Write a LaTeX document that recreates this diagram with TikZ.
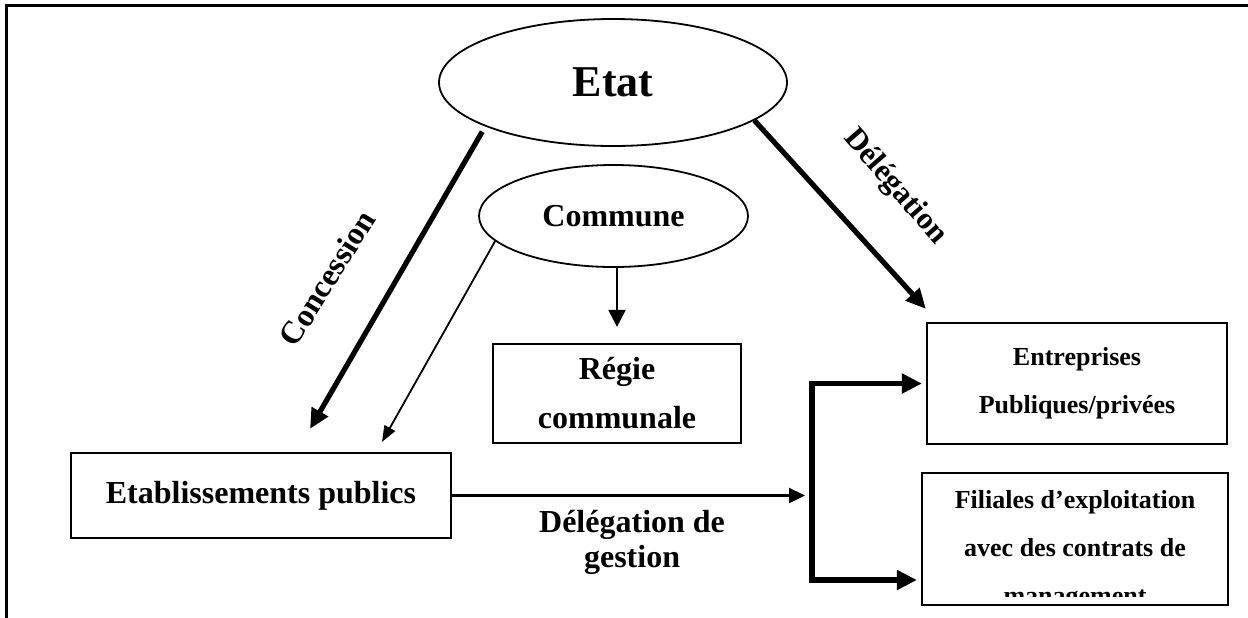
\documentclass[tikz,border=0pt]{standalone}
\usepackage{fontspec}
\setmainfont{Liberation Serif}
\usetikzlibrary{shapes.geometric,arrows.meta}

\begin{document}
\begin{tikzpicture}[x=0.5pt,y=-0.5pt,
	every node/.style={font=\bfseries\fontsize{16}{24.5}\selectfont},
	oval/.style={ellipse,draw=black,line width=0.9pt,inner sep=0pt},
	box/.style={rectangle,draw=black,line width=1.1pt,inner sep=0pt,align=center},
	fat/.style={line width=2.6pt,-{Triangle[length=10pt,width=9pt]}},
	slim/.style={line width=0.9pt,-{Triangle[length=8pt,width=6pt]}}]
			\useasboundingbox (0,0) rectangle (1248,617);
			\draw[line width=1.5pt] (6.3,640) -- (6.3,5.5) -- (1260,5.5);

			%ellipses
			\node [oval,minimum width=174pt,minimum height=63.5pt,font=\bfseries\fontsize{22}{26}\selectfont] (etat) at (613,82.5) {Etat};
			\node [oval,minimum width=134.5pt,minimum height=51pt] (commune) at (613.5,216) {Commune};

			%boxes
			\node [box,minimum width=190pt,minimum height=42.5pt] (etab) at (261,495.5) {Etablissements publics};
			\node [box,minimum width=124pt,minimum height=49.5pt] (regie) at (617,393.5) {Régie\\communale};
			\node [box,minimum width=150pt,minimum height=60.5pt,font=\bfseries\fontsize{13}{24}\selectfont] (ent) at (1077,383.5) {Entreprises\\Publiques/privées};
			\node [box,minimum width=153pt,minimum height=66pt] (fil) at (1075,539) {};
			\begin{scope}
				\clip (fil.north west) rectangle ([yshift=5pt]fil.south east);
				\node [align=center,inner sep=0pt,font=\bfseries\fontsize{13}{24}\selectfont] (filtxt) at (1075,550) {Filiales d’exploitation\\avec des contrats de\\management};
			\end{scope}

			%labels
			\node [rotate=58] (conc) at (327,278) {Concession};
			\node [rotate=-49,font=\bfseries\fontsize{15.5}{18}\selectfont] (deleg) at (895,187) {Délégation};

			%bracket
			\coordinate (jtop) at (812,383.5);
			\coordinate (jbot) at (812,580);

			%edges
			\draw[fat,shorten <=3pt] (etat.-161) -- ([shift={(49,-23)}]etab.north);
			\draw[fat] (etat.-15) -- ([shift={(0,-13)}]ent.north west);
			\draw[slim] (commune.-168) -- ([shift={(121,-10)}]etab.north);
			\draw[line width=1pt,-{Triangle[length=8.5pt,width=8.5pt]}] (commune.south -| regie.north) -- ([shift={(0,-16)}]regie.north);
			\draw[line width=1.2pt,-{Triangle[length=8pt,width=7.5pt]},shorten >=3.5pt] (etab.east) -- node[midway,below=7pt,align=center,inner sep=0pt,font=\bfseries\fontsize{16}{17.5}\selectfont] {Délégation de\\gestion} (etab.east -| jtop);
			\draw[line width=2.8pt,{Triangle[length=10pt,width=9.5pt]}-{Triangle[length=10pt,width=9.5pt]},shorten <=2pt,shorten >=2pt] (ent.west) -- (jtop) -- (jbot) -- (jbot -| fil.west);
		\end{tikzpicture}
\end{document}
